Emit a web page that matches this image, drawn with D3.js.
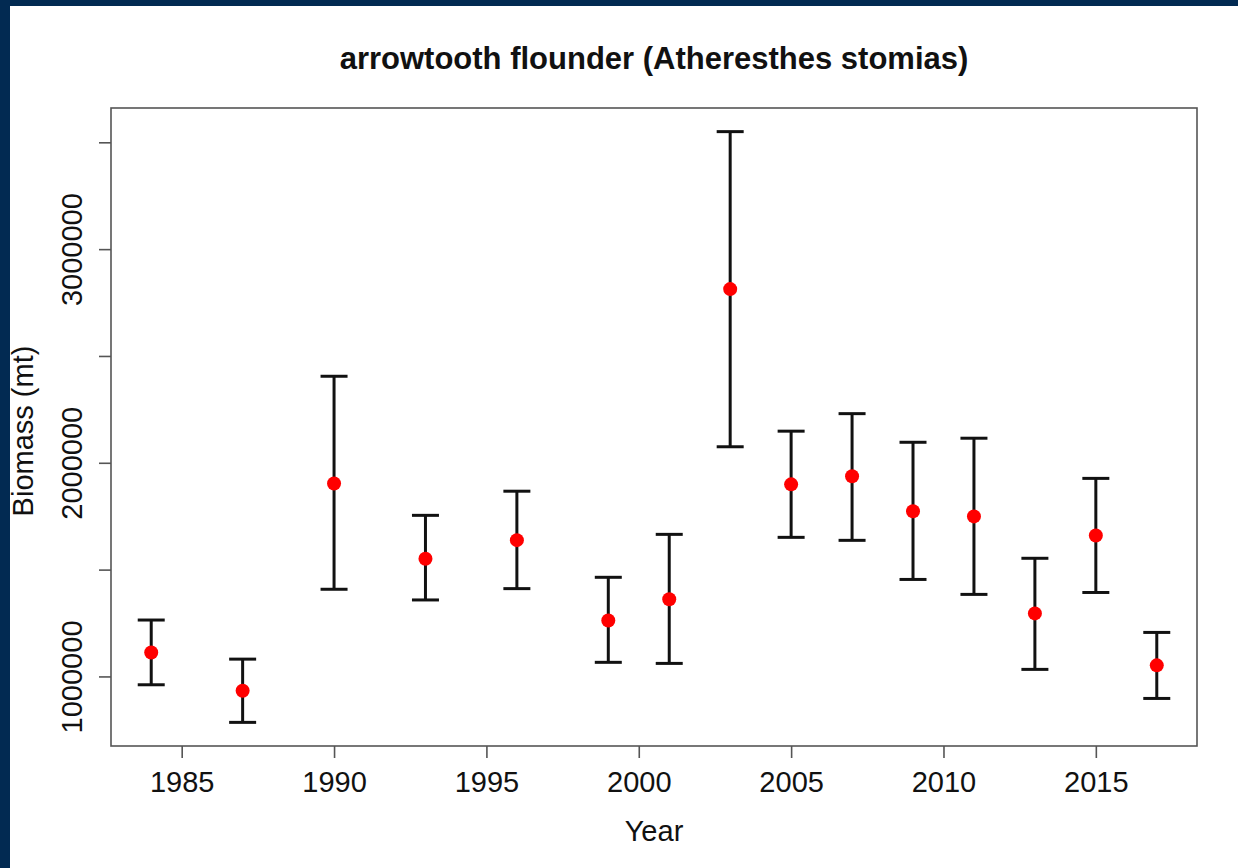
<!DOCTYPE html>
<html>
<head>
<meta charset="utf-8">
<title>arrowtooth flounder biomass</title>
<script src="https://d3js.org/d3.v7.min.js"></script>
<style>
    body { margin: 0; background: #ffffff; }
    svg text { font-family: "Liberation Sans", Arial, sans-serif; fill: #111; }
</style>
</head>
<body>
<div id="chart"></div>
<script>
    "use strict"

    // survey years and biomass estimates (mt), with upper / lower interval
    var years   = [1984, 1987, 1990, 1993, 1996, 1999, 2001, 2003, 2005, 2007, 2009, 2011, 2013, 2015, 2017];
    var biomass = [1112000, 933000, 1903000, 1551000, 1638000, 1262000, 1361000, 2813000, 1899000, 1937000, 1773000, 1749000, 1295000, 1660000, 1052000];
    var upper   = [1264000, 1081000, 2405000, 1754000, 1867000, 1464000, 1665000, 3550000, 2148000, 2230000, 2096000, 2115000, 1553000, 1927000, 1206000];
    var lower   = [961000, 785000, 1408000, 1358000, 1411000, 1066000, 1061000, 2075000, 1651000, 1637000, 1454000, 1384000, 1033000, 1393000, 897000];

    var xTicks = [1985, 1990, 1995, 2000, 2005, 2010, 2015];
    var yTicks = [1000000, 1500000, 2000000, 2500000, 3000000, 3500000];
    var yTickLabels = ["1000000", "", "2000000", "", "3000000", ""];

    var width = 1238, height = 868;
    var plot = { left: 111, top: 108, right: 1197, bottom: 746 };

    // R style 4% padding of the data range
    function padded(lo, hi) {
        var d = (hi - lo) * 0.04;
        return [lo - d, hi + d];
    }

    var x = d3.scaleLinear()
        .domain(padded(d3.min(years), d3.max(years)))
        .range([plot.left, plot.right]);

    var y = d3.scaleLinear()
        .domain(padded(d3.min(lower), d3.max(upper)))
        .range([plot.bottom, plot.top]);

    var svg = d3.select('#chart')
        .append('svg')
        .attr('width', width)
        .attr('height', height);

    svg.append('rect')
        .attr('width', width)
        .attr('height', height)
        .attr('fill', '#ffffff');

    var rows = years.map(function (yr, i) {
        return { year: yr, value: biomass[i], hi: upper[i], lo: lower[i] };
    });

    var bars = svg.append('g')
        .attr('stroke', '#111')
        .attr('stroke-width', 3);

    bars.selectAll('line.stem')
        .data(rows)
        .enter()
        .append('line')
        .attr('class', 'stem')
        .attr('x1', d => x(d.year))
        .attr('x2', d => x(d.year))
        .attr('y1', d => y(d.hi))
        .attr('y2', d => y(d.lo));

    bars.selectAll('line.captop')
        .data(rows)
        .enter()
        .append('line')
        .attr('class', 'captop')
        .attr('x1', d => x(d.year) - 13.5)
        .attr('x2', d => x(d.year) + 13.5)
        .attr('y1', d => y(d.hi))
        .attr('y2', d => y(d.hi));

    bars.selectAll('line.capbot')
        .data(rows)
        .enter()
        .append('line')
        .attr('class', 'capbot')
        .attr('x1', d => x(d.year) - 13.5)
        .attr('x2', d => x(d.year) + 13.5)
        .attr('y1', d => y(d.lo))
        .attr('y2', d => y(d.lo));

    svg.append('g')
        .selectAll('circle')
        .data(rows)
        .enter()
        .append('circle')
        .attr('cx', d => x(d.year))
        .attr('cy', d => y(d.value))
        .attr('r', 7)
        .attr('fill', '#ff0000');

    // plot frame
    svg.append('rect')
        .attr('x', plot.left)
        .attr('y', plot.top)
        .attr('width', plot.right - plot.left)
        .attr('height', plot.bottom - plot.top)
        .attr('fill', 'none')
        .attr('stroke', '#555')
        .attr('stroke-width', 1.6);

    var xAxis = svg.append('g')
        .attr('transform', 'translate(0,' + plot.bottom + ')')
        .call(d3.axisBottom(x).tickValues(xTicks).tickFormat(d3.format('d'))
            .tickSize(12).tickSizeOuter(0).tickPadding(13));

    var yAxis = svg.append('g')
        .attr('transform', 'translate(' + plot.left + ',0)')
        .call(d3.axisLeft(y).tickValues(yTicks).tickFormat((d, i) => yTickLabels[i])
            .tickSize(12).tickSizeOuter(0));

    [xAxis, yAxis].forEach(function (ax) {
        ax.select('.domain').remove();
        ax.selectAll('.tick line').attr('stroke', '#555').attr('stroke-width', 1.6);
        ax.selectAll('.tick text')
            .attr('fill', '#111')
            .style('font-size', '29px');
    });

    yAxis.selectAll('.tick text')
        .attr('x', 0)
        .attr('y', 0)
        .attr('dy', null)
        .attr('text-anchor', 'middle')
        .attr('transform', 'translate(-29,0) rotate(-90)');

    svg.append('text')
        .attr('x', (plot.left + plot.right) / 2)
        .attr('y', 69)
        .attr('text-anchor', 'middle')
        .style('font-size', '31px')
        .style('font-weight', 'bold')
        .text('arrowtooth flounder (Atheresthes stomias)');

    svg.append('text')
        .attr('x', (plot.left + plot.right) / 2)
        .attr('y', 841)
        .attr('text-anchor', 'middle')
        .style('font-size', '29px')
        .text('Year');

    svg.append('text')
        .attr('transform', 'translate(33,' + ((plot.top + plot.bottom) / 2 + 4) + ') rotate(-90)')
        .attr('text-anchor', 'middle')
        .style('font-size', '29px')
        .text('Biomass (mt)');

    // dark slide frame on top and left
    svg.append('rect')
        .attr('x', 0).attr('y', 0)
        .attr('width', width).attr('height', 6)
        .attr('fill', '#022a52');
    svg.append('rect')
        .attr('x', 0).attr('y', 0)
        .attr('width', 10).attr('height', height)
        .attr('fill', '#022a52');
</script>
</body>
</html>
